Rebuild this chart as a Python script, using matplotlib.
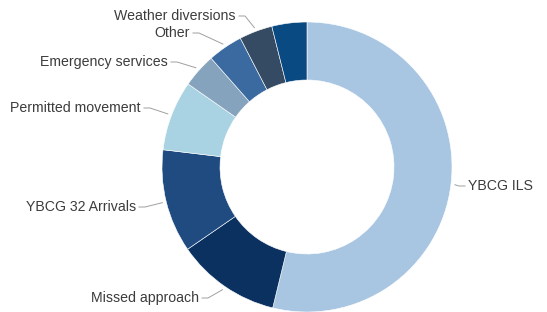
import matplotlib.pyplot as plt
import numpy as np

# slice data, clockwise from 12 o'clock
labels = ['YBCG ILS', 'Missed approach', 'YBCG 32 Arrivals', 'Permitted movement',
          'Emergency services', 'Other', 'Weather diversions', '']
values = [53.8, 11.6, 11.5, 7.8, 3.8, 3.9, 3.7, 3.9]
colors = ['#a8c6e2', '#0b3160', '#1f4b80', '#a9d3e3',
          '#86a3be', '#3a6a9f', '#344b63', '#0a4a82']

# label text positions (pixels from top-left) and alignment
label_pos = {
    'YBCG ILS': (468, 186, 'left'),
    'Missed approach': (199, 298, 'right'),
    'YBCG 32 Arrivals': (136, 207, 'right'),
    'Permitted movement': (141, 108, 'right'),
    'Emergency services': (168, 62, 'right'),
    'Other': (190, 33, 'right'),
    'Weather diversions': (236, 16, 'right'),
}

W, H = 547, 312
cx, cy, r = 307, H - 167, 145

fig = plt.figure(figsize=(W / 100, H / 100), dpi=100)
ax = fig.add_axes([0, 0, 1, 1])

wedges, _ = ax.pie(values, colors=colors, startangle=90, counterclock=False,
                   center=(cx, cy), radius=r, frame=True,
                   wedgeprops=dict(width=r * 0.4, edgecolor='white', linewidth=0.4))
ax.set_xlim(0, W)
ax.set_ylim(0, H)
ax.set_aspect('equal')
ax.axis('off')

for w, lab in zip(wedges, labels):
    if lab == '':
        continue
    ang = np.deg2rad((w.theta1 + w.theta2) / 2)
    px = cx + (r + 4) * np.cos(ang)
    py = cy + (r + 4) * np.sin(ang)
    tx, ty, ha = label_pos[lab]
    ty = H - ty
    sx = tx + 3 if ha == 'right' else tx - 3
    ax.plot([sx, sx + (6 if ha == 'right' else -6), px], [ty, ty, py],
            color='#a0a0a0', lw=0.7)
    ax.text(tx, ty, lab, ha=ha, va='center', fontsize=10.2,
            family='Liberation Sans', color='#3c3c3c')

fig.savefig('out.png', dpi=100)
